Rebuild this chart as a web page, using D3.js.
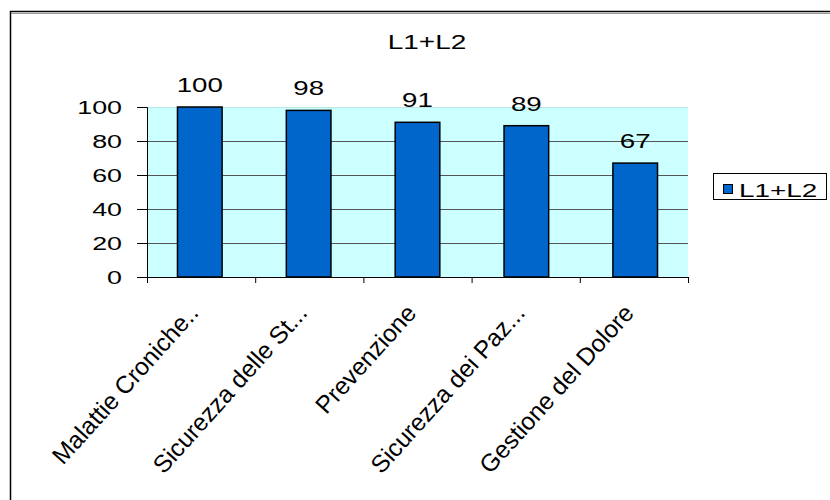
<!DOCTYPE html>
<html>
<head>
<meta charset="utf-8">
<script src="https://cdn.jsdelivr.net/npm/d3@7"></script>
<style>
  html, body { margin: 0; padding: 0; background: #fff; }
  svg { display: block; font-family: "Liberation Sans", Arial, sans-serif; }
</style>
</head>
<body>
<svg id="chart" width="830" height="500"></svg>
<script>
// Chart data
const title = "L1+L2";
const seriesName = "L1+L2";
const categories = [
  "Malattie Croniche..",
  "Sicurezza delle St...",
  "Prevenzione",
  "Sicurezza dei Paz...",
  "Gestione del Dolore"
];
const values = [100, 98, 91, 89, 67];
const yTicks = [0, 20, 40, 60, 80, 100];

const svg = d3.select("#chart");

// Plot area
const plot = { left: 147, right: 688, top: 107, bottom: 277 };

const x = d3.scaleBand()
  .domain(categories)
  .range([plot.left, plot.right])
  .paddingInner(0.59)
  .paddingOuter(0.28);

const y = d3.scaleLinear()
  .domain([0, 100])
  .range([plot.bottom, plot.top]);

// Horizontally widened text helper
function wideText(g, tx, ty, str, size, sx, anchor) {
  return g.append("text")
    .attr("transform", `translate(${tx},${ty}) scale(${sx},1)`)
    .attr("text-anchor", anchor || "middle")
    .attr("font-size", size)
    .attr("fill", "#000")
    .text(str);
}

// Outer frame
svg.append("rect")
  .attr("x", 10.5).attr("y", 11.5)
  .attr("width", 840).attr("height", 520)
  .attr("fill", "none")
  .attr("stroke", "#000")
  .attr("stroke-width", 1.5);
svg.append("line")
  .attr("x1", 11).attr("x2", 830)
  .attr("y1", 13.5).attr("y2", 13.5)
  .attr("stroke", "#999").attr("stroke-width", 1);

// Plot background
svg.append("rect")
  .attr("x", plot.left).attr("y", plot.top)
  .attr("width", plot.right - plot.left)
  .attr("height", plot.bottom - plot.top)
  .attr("fill", "#ccffff");

// Gridlines
svg.append("g")
  .selectAll("line")
  .data(yTicks.filter(d => d > 0))
  .join("line")
  .attr("x1", plot.left).attr("x2", plot.right)
  .attr("y1", d => Math.round(y(d)) + 0.5)
  .attr("y2", d => Math.round(y(d)) + 0.5)
  .attr("stroke", d => d === 100 ? "#b8e8e8" : "#555")
  .attr("stroke-width", 1);

// Bars
svg.append("g")
  .selectAll("rect")
  .data(values)
  .join("rect")
  .attr("x", (d, i) => x(categories[i]))
  .attr("y", d => y(d))
  .attr("width", x.bandwidth())
  .attr("height", d => y(0) - y(d))
  .attr("fill", "#0066cc")
  .attr("stroke", "#000")
  .attr("stroke-width", 1.5);

// Y axis
const yAxis = d3.axisLeft(y).tickValues(yTicks).tickSize(10).tickFormat("");
const yg = svg.append("g")
  .attr("transform", `translate(${plot.left},0)`)
  .call(yAxis);
yg.select(".domain").attr("stroke", "#000").attr("stroke-width", 1);
yg.selectAll(".tick line").attr("stroke", "#000");
yTicks.forEach(t => {
  wideText(svg, 122, y(t) + 6.5, String(t), 18.5, 1.45, "end");
});

// X axis with ticks at category boundaries
const boundaries = d3.range(categories.length + 1).map(i => plot.left + i * (plot.right - plot.left) / categories.length);
const xg = svg.append("g");
xg.append("line")
  .attr("x1", plot.left - 10).attr("x2", plot.right)
  .attr("y1", plot.bottom + 0.5).attr("y2", plot.bottom + 0.5)
  .attr("stroke", "#000");
xg.selectAll("line.tk")
  .data(boundaries)
  .join("line")
  .attr("class", "tk")
  .attr("x1", d => d + 0.5).attr("x2", d => d + 0.5)
  .attr("y1", plot.bottom).attr("y2", plot.bottom + 6)
  .attr("stroke", "#000");

// Category labels, rotated
svg.append("g")
  .selectAll("text")
  .data(categories)
  .join("text")
  .attr("transform", d => `translate(${x(d) + x.bandwidth() / 2},${plot.bottom + 37}) rotate(-48)`)
  .attr("text-anchor", "end")
  .attr("font-size", 24.5)
  .attr("fill", "#000")
  .text(d => d);

// Value labels
values.forEach((v, i) => {
  wideText(svg, x(categories[i]) + x.bandwidth() / 2, y(v) - 15, String(v), 20.5, 1.35, "middle");
});

// Title
wideText(svg, 427, 49, title, 20, 1.4, "middle");

// Legend
const lg = svg.append("g");
lg.append("rect")
  .attr("x", 713.5).attr("y", 173.5)
  .attr("width", 113).attr("height", 26)
  .attr("fill", "#fff")
  .attr("stroke", "#000");
lg.append("rect")
  .attr("x", 723.5).attr("y", 184.5)
  .attr("width", 9).attr("height", 9)
  .attr("fill", "#0066cc")
  .attr("stroke", "#000");
wideText(lg, 739, 197, seriesName, 18, 1.55, "start");
</script>
</body>
</html>
